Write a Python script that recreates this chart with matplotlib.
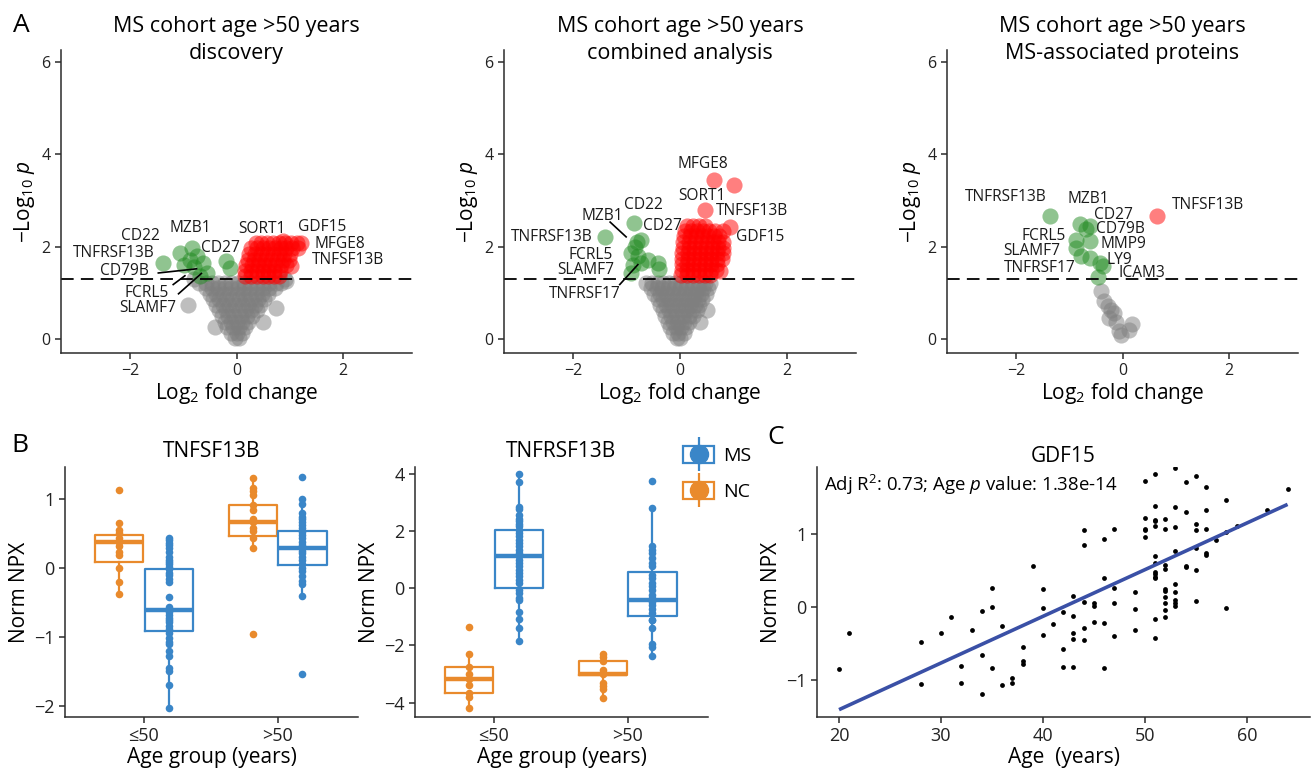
import matplotlib
matplotlib.use("Agg")
import matplotlib.pyplot as plt
import numpy as np
from matplotlib.lines import Line2D
from matplotlib.patches import Patch

plt.rcParams['font.family'] = ['Open Sans', 'DejaVu Sans']
plt.rcParams['mathtext.fontset'] = 'custom'
plt.rcParams['mathtext.rm'] = 'Open Sans'
plt.rcParams['mathtext.it'] = 'Open Sans:italic'
plt.rcParams['mathtext.bf'] = 'Open Sans:bold'

GRAY = '#7f7f7f'
GREEN = '#228b22'
RED = '#ff0000'
MS_BLUE = '#3a86c8'
NC_ORANGE = '#e98a2c'
AXCOL = '#2b2b2b'

# ---------------- panel A: volcano plots (log2FC, -log10 p) ----------------
a1_gray = [(-0.02, 0.03), (0.04, 0.03),
           (-0.1, 0.14), (0.0, 0.14), (0.1, 0.14),
           (-0.17, 0.26), (-0.06, 0.26), (0.05, 0.26), (0.16, 0.26),
           (-0.22, 0.38), (-0.11, 0.38), (0.0, 0.38), (0.11, 0.38), (0.22, 0.38),
           (-0.28, 0.5), (-0.16, 0.5), (-0.04, 0.5), (0.08, 0.5), (0.2, 0.5), (0.3, 0.5),
           (-0.32, 0.62), (-0.2, 0.62), (-0.08, 0.62), (0.04, 0.62), (0.16, 0.62), (0.28, 0.62),
           (0.38, 0.62),
           (-0.38, 0.74), (-0.26, 0.74), (-0.14, 0.74), (-0.02, 0.74), (0.1, 0.74), (0.22, 0.74),
           (0.34, 0.74), (0.45, 0.74),
           (-0.44, 0.86), (-0.32, 0.86), (-0.2, 0.86), (-0.08, 0.86), (0.04, 0.86), (0.16, 0.86),
           (0.28, 0.86), (0.4, 0.86), (0.52, 0.86),
           (-0.5, 0.98), (-0.38, 0.98), (-0.26, 0.98), (-0.14, 0.98), (0.0, 0.98), (0.12, 0.98),
           (0.24, 0.98), (0.36, 0.98), (0.48, 0.98), (0.6, 0.98),
           (-0.58, 1.1), (-0.46, 1.1), (-0.34, 1.1), (-0.22, 1.1), (-0.1, 1.1), (0.02, 1.1),
           (0.14, 1.1), (0.26, 1.1), (0.38, 1.1), (0.5, 1.1), (0.62, 1.1), (0.72, 1.1),
           (-0.7, 1.22), (-0.58, 1.22), (-0.46, 1.22), (-0.34, 1.22), (-0.22, 1.22), (-0.1, 1.22),
           (0.02, 1.22), (0.14, 1.22), (0.26, 1.22), (0.38, 1.22), (0.5, 1.22), (0.62, 1.22),
           (0.74, 1.22), (0.84, 1.22), (-0.8, 1.3), (0.92, 1.3),
           (-0.91, 0.74), (0.75, 0.67), (-0.41, 0.27), (0.5, 0.38), (0.94, 1.25)]
a1_green = [(-1.375, 1.65), (-1.06, 1.86), (-0.84, 1.97), (-0.87, 1.72), (-0.98, 1.6),
            (-0.75, 1.8), (-0.63, 1.65), (-0.56, 1.43), (-0.69, 1.36), (-0.8, 1.55),
            (-0.19, 1.68), (-0.13, 1.54)]
a1_red = [(0.16, 1.36), (0.27, 1.36), (0.38, 1.36), (0.49, 1.36), (0.6, 1.36), (0.71, 1.36), (0.8, 1.36),
          (0.16, 1.48), (0.27, 1.48), (0.38, 1.48), (0.49, 1.48), (0.6, 1.48), (0.71, 1.48), (0.82, 1.48),
          (0.18, 1.6), (0.29, 1.6), (0.4, 1.6), (0.51, 1.6), (0.62, 1.6), (0.73, 1.6), (0.84, 1.6),
          (0.94, 1.6),
          (0.21, 1.72), (0.32, 1.72), (0.43, 1.72), (0.54, 1.72), (0.65, 1.72), (0.76, 1.72),
          (0.87, 1.72), (0.98, 1.72),
          (0.24, 1.84), (0.35, 1.84), (0.46, 1.84), (0.57, 1.84), (0.68, 1.84), (0.79, 1.84),
          (0.9, 1.84), (1.01, 1.84),
          (0.28, 1.96), (0.39, 1.96), (0.5, 1.96), (0.61, 1.96), (0.72, 1.96), (0.83, 1.96),
          (0.94, 1.96), (1.05, 1.96), (1.16, 1.96),
          (0.36, 2.07), (0.47, 2.07), (0.58, 2.07), (0.69, 2.07), (0.8, 2.07), (0.91, 2.07),
          (1.02, 2.07), (1.13, 2.07), (1.22, 2.07), (0.88, 2.13), (1.02, 1.58)]
a1_labels = [('CD22', -1.81, 2.22), ('MZB1', -0.875, 2.40), ('TNFRSF13B', -2.31, 1.86),
             ('CD27', -0.3, 1.97), ('CD79B', -2.11, 1.48), ('FCRL5', -1.69, 1.0),
             ('SLAMF7', -1.675, 0.67), ('SORT1', 0.47, 2.38), ('GDF15', 1.61, 2.43),
             ('MFGE8', 1.94, 2.06), ('TNFSF13B', 2.09, 1.72)]
a1_segments = [(-1.47, 1.43, -0.75, 1.52), (-1.19, 1.18, -0.97, 1.37), (-1.09, 0.98, -0.66, 1.42)]

a2_gray = [(-0.06, 0.03), (0.0, 0.03),
           (-0.13, 0.14), (-0.03, 0.14), (0.07, 0.14),
           (-0.18, 0.26), (-0.08, 0.26), (0.02, 0.26), (0.12, 0.26),
           (-0.23, 0.38), (-0.13, 0.38), (-0.03, 0.38), (0.07, 0.38), (0.17, 0.38),
           (-0.28, 0.5), (-0.17, 0.5), (-0.06, 0.5), (0.05, 0.5), (0.16, 0.5), (0.25, 0.5),
           (-0.32, 0.62), (-0.21, 0.62), (-0.1, 0.62), (0.01, 0.62), (0.12, 0.62), (0.23, 0.62),
           (0.31, 0.62),
           (-0.37, 0.74), (-0.26, 0.74), (-0.15, 0.74), (-0.04, 0.74), (0.07, 0.74), (0.18, 0.74),
           (0.29, 0.74), (0.36, 0.74),
           (-0.42, 0.86), (-0.31, 0.86), (-0.2, 0.86), (-0.09, 0.86), (0.02, 0.86), (0.13, 0.86),
           (0.24, 0.86), (0.34, 0.86), (0.42, 0.86),
           (-0.48, 0.98), (-0.37, 0.98), (-0.26, 0.98), (-0.15, 0.98), (-0.04, 0.98), (0.07, 0.98),
           (0.18, 0.98), (0.29, 0.98), (0.4, 0.98), (0.48, 0.98),
           (-0.55, 1.1), (-0.44, 1.1), (-0.33, 1.1), (-0.22, 1.1), (-0.11, 1.1), (0.0, 1.1),
           (0.11, 1.1), (0.22, 1.1), (0.33, 1.1), (0.44, 1.1), (0.52, 1.1),
           (-0.64, 1.22), (-0.53, 1.22), (-0.42, 1.22), (-0.31, 1.22), (-0.2, 1.22), (-0.09, 1.22),
           (0.02, 1.22), (0.13, 1.22), (0.24, 1.22), (0.35, 1.22), (0.46, 1.22), (0.56, 1.22),
           (0.38, 0.38), (0.5, 0.62)]
a2_green = [(-1.41, 2.21), (-0.86, 2.51), (-0.73, 2.15), (-0.85, 2.0), (-0.91, 1.86),
            (-0.79, 1.79), (-0.6, 1.72), (-0.42, 1.65), (-0.39, 1.52), (-0.91, 1.42),
            (-0.73, 1.65), (-0.88, 1.6), (-0.8, 2.1)]
a2_red = [(0.02, 1.38), (0.13, 1.38), (0.24, 1.38), (0.35, 1.38), (0.46, 1.38), (0.57, 1.38),
          (0.03, 1.5), (0.14, 1.5), (0.25, 1.5), (0.36, 1.5), (0.47, 1.5), (0.58, 1.5), (0.68, 1.5),
          (0.03, 1.62), (0.14, 1.62), (0.25, 1.62), (0.36, 1.62), (0.47, 1.62), (0.58, 1.62),
          (0.69, 1.62),
          (0.04, 1.74), (0.15, 1.74), (0.26, 1.74), (0.37, 1.74), (0.48, 1.74), (0.59, 1.74),
          (0.7, 1.74), (0.78, 1.74),
          (0.04, 1.86), (0.15, 1.86), (0.26, 1.86), (0.37, 1.86), (0.48, 1.86), (0.59, 1.86),
          (0.7, 1.86), (0.8, 1.86),
          (0.05, 1.98), (0.16, 1.98), (0.27, 1.98), (0.38, 1.98), (0.49, 1.98), (0.6, 1.98),
          (0.71, 1.98), (0.8, 1.98),
          (0.06, 2.1), (0.17, 2.1), (0.28, 2.1), (0.39, 2.1), (0.5, 2.1), (0.61, 2.1), (0.72, 2.1),
          (0.8, 2.1),
          (0.08, 2.22), (0.19, 2.22), (0.3, 2.22), (0.41, 2.22), (0.52, 2.22), (0.63, 2.22),
          (0.74, 2.22),
          (0.1, 2.34), (0.21, 2.34), (0.32, 2.34), (0.43, 2.34), (0.54, 2.34), (0.65, 2.34),
          (0.8, 2.34), (0.14, 2.44), (0.25, 2.44), (0.36, 2.44), (0.47, 2.44),
          (0.63, 3.45), (1.01, 3.34), (0.46, 2.79), (0.93, 2.42), (0.75, 1.47)]
a2_labels = [('MFGE8', 0.43, 3.79), ('SORT1', 0.41, 3.10), ('TNFSF13B', 1.35, 2.77),
             ('GDF15', 1.51, 2.21), ('CD22', -0.685, 2.89), ('MZB1', -1.45, 2.67),
             ('CD27', -0.33, 2.44), ('TNFRSF13B', -2.41, 2.21), ('FCRL5', -1.67, 1.81),
             ('SLAMF7', -1.77, 1.49), ('TNFRSF17', -1.78, 0.98)]
a2_segments = [(-1.31, 2.53, -1.01, 2.21), (-1.13, 1.18, -0.79, 1.61)]

a3_gray = [(-0.40, 1.05), (-0.35, 0.82), (-0.28, 0.71), (-0.22, 0.64), (-0.16, 0.56),
           (-0.26, 0.45), (-0.12, 0.38), (0.17, 0.33), (0.12, 0.20), (-0.06, 0.17), (-0.02, 0.09)]
a3_green = [(-1.37, 2.67), (-0.79, 2.48), (-0.62, 2.44), (-0.68, 2.37), (-0.88, 2.15),
            (-0.62, 2.12), (-0.87, 1.97), (-0.78, 1.79), (-0.62, 1.75), (-0.43, 1.65),
            (-0.37, 1.57), (-0.47, 1.34)]
a3_red = [(0.64, 2.67)]
a3_labels = [('TNFRSF13B', -2.19, 3.08), ('MZB1', -0.65, 3.02), ('TNFSF13B', 1.61, 2.90),
             ('CD27', -0.17, 2.68), ('CD79B', -0.04, 2.38), ('FCRL5', -1.48, 2.24),
             ('MMP9', 0.01, 2.05), ('SLAMF7', -1.71, 1.90), ('LY9', -0.06, 1.71),
             ('TNFRSF17', -1.55, 1.54), ('ICAM3', 0.37, 1.42)]

# ---------------- panel B: box plots (Norm NPX) ----------------
age_groups = ['≤50', '>50']
tnfsf_nc = [[1.13, 0.65, 0.55, 0.50, 0.43, 0.38, 0.32, 0.23, 0.18, 0.0, -0.20, -0.38],
            [1.30, 1.16, 1.11, 1.06, 0.91, 0.84, 0.70, 0.66, 0.57, 0.53, 0.43, 0.28, -0.96]]
tnfsf_ms = [[0.43, 0.40, 0.36, 0.33, 0.28, 0.23, 0.16, 0.12, 0.09, 0.05, 0.01, -0.02, -0.07,
             -0.10, -0.16, -0.20, -0.42, -0.57, -0.61, -0.64, -0.68, -0.72, -0.75, -0.79,
             -0.84, -0.88, -0.95, -1.01, -1.07, -1.11, -1.20, -1.27, -1.45, -1.50, -1.69, -2.03],
            [1.32, 1.0, 0.92, 0.80, 0.74, 0.70, 0.66, 0.62, 0.57, 0.52, 0.47, 0.43, 0.38, 0.33,
             0.29, 0.25, 0.21, 0.16, 0.12, 0.06, 0.0, -0.05, -0.12, -0.19, -0.24, -0.41, -1.54]]
# box stats: (q1, median, q3, whisker low, whisker high)
tnfsf_nc_box = [(0.08, 0.37, 0.47, -0.38, 0.65), (0.46, 0.66, 0.91, 0.28, 1.30)]
tnfsf_ms_box = [(-0.92, -0.61, -0.02, -2.03, 0.43), (0.04, 0.29, 0.53, -0.41, 1.0)]

tnfrsf_nc = [[-1.35, -2.31, -2.74, -3.0, -3.17, -3.38, -3.67, -3.79, -4.2],
             [-2.29, -2.39, -2.56, -2.86, -2.95, -3.0, -3.32, -3.42, -3.53, -3.85]]
tnfrsf_ms = [[4.0, 3.72, 2.84, 2.75, 2.57, 2.42, 2.34, 2.25, 2.16, 2.04, 1.93, 1.81, 1.69,
              1.58, 1.46, 1.34, 1.23, 1.11, 0.99, 0.88, 0.76, 0.64, 0.53, 0.41, 0.29, 0.18,
              -0.06, -0.18, -0.35, -0.41, -0.85, -1.08, -1.39, -1.86],
             [3.74, 2.80, 1.46, 1.34, 1.23, 1.05, 0.88, 0.76, 0.47, 0.35, 0.18, 0.06, -0.08,
              -0.23, -0.35, -0.47, -0.58, -0.74, -0.88, -1.11, -1.13, -1.40, -1.94, -2.05, -2.37]]
tnfrsf_nc_box = [(-3.67, -3.17, -2.74, -4.2, -2.31), (-3.03, -2.99, -2.56, -3.85, -2.29)]
tnfrsf_ms_box = [(0.0, 1.13, 2.04, -1.86, 4.0), (-0.99, -0.41, 0.58, -2.37, 2.80)]

# ---------------- panel C: GDF15 vs age ----------------
age = [20, 21, 28, 28, 30, 31, 32, 32, 33, 34, 34, 34, 35, 35, 35, 36, 36, 37, 37, 38, 38, 38,
       39, 40, 40, 40, 41, 42, 42, 42, 43, 43, 43, 43, 43, 44, 44, 44, 44, 44, 45, 45, 45,
       46, 46, 46, 46, 47, 47, 47, 47, 49, 49, 49, 50, 50, 50, 50, 50,
       51, 51, 51, 51, 51, 51, 51, 51, 51, 51, 51, 51, 51,
       52, 52, 52, 52, 52, 52, 52, 52, 52, 52,
       53, 53, 53, 53, 53, 53, 53, 53, 53, 54, 54, 54, 54,
       55, 55, 55, 55, 55, 55, 56, 56, 56, 56, 56, 57, 58, 58, 58, 59, 62, 64]
gdf15 = [-0.85, -0.35, -0.48, -1.05, -0.36, -0.13, -0.80, -1.04, -0.31, -0.05, -0.66, -1.19,
         0.26, 0.0, -0.83, -0.26, -1.07, -0.97, -1.03, -0.55, -0.74, -0.78,
         0.56, 0.24, -0.01, -0.38, -0.23, -0.07, -0.57, -0.82, 0.15, -0.12, -0.35, -0.44, -0.82,
         1.05, 0.85, 0.07, -0.29, -0.45, 0.05, 0.01, -0.21,
         0.93, 0.39, -0.22, -0.83, 1.06, 0.26, 0.06, -0.40, 0.21, -0.03, -0.31,
         1.72, 1.21, 1.07, 1.05, 0.95,
         1.82, 1.38, 1.19, 1.17, 1.11, 0.69, 0.60, 0.48, 0.45, 0.41, 0.39, -0.17, -0.42,
         1.20, 1.06, 0.58, 0.52, 0.24, 0.22, 0.14, 0.05, -0.04, -0.14,
         1.89, 1.37, 1.09, 0.77, 0.32, 0.21, 0.10, 0.06, 0.01, 1.71, 1.30, 0.56, 0.55,
         1.79, 1.13, 1.05, 0.80, 0.51, 0.08, 1.64, 1.33, 1.07, 0.74, 0.71, 0.92, 1.46, 1.03,
         -0.02, 1.10, 1.33, 1.61]
fit_age = [20, 64]
fit_npx = [-1.40, 1.40]


def style(ax, tick_size):
    for s in ('top', 'right'):
        ax.spines[s].set_visible(False)
    for s in ('left', 'bottom'):
        ax.spines[s].set_color(AXCOL)
        ax.spines[s].set_linewidth(1.1)
    ax.tick_params(color=AXCOL, length=4, width=1.1, labelsize=tick_size, labelcolor='#222222')


def volcano(ax, gray, green, red, labels, segments, subtitle):
    for pts, col in ((gray, GRAY), (green, GREEN), (red, RED)):
        p = np.array(pts)
        ax.scatter(p[:, 0], p[:, 1], s=135, c=col, alpha=0.5, linewidths=0)
    ax.axhline(1.3, color='k', lw=1.3, ls=(0, (7, 4)))
    for x0, y0, x1, y1 in segments:
        ax.plot([x0, x1], [y0, y1], color='k', lw=1.2)
    for name, x, y in labels:
        ax.text(x, y, name, fontsize=11.2, ha='center', va='center', color='#1a1a1a')
    ax.set_xlim(-3.3, 3.3)
    ax.set_ylim(-0.3, 6.25)
    ax.set_xticks([-2, 0, 2])
    ax.set_yticks([0, 2, 4, 6])
    style(ax, 11.5)
    ax.set_xlabel(r'Log$_2$ fold change', fontsize=15, labelpad=1)
    ax.set_ylabel(r'$-$Log$_{10}$ $\mathit{p}$', fontsize=15, labelpad=3)
    ax.text(0.5, 1.076, 'MS cohort age >50 years', transform=ax.transAxes,
            ha='center', va='center', fontsize=15.5)
    ax.text(0.5, 0.99, subtitle, transform=ax.transAxes, ha='center', va='center', fontsize=15.5)


def boxes(ax, nc, ms, nc_box, ms_box, title, yticks, ylim):
    for i in range(2):
        for pts, st, col, off in ((nc[i], nc_box[i], NC_ORANGE, -0.185),
                                  (ms[i], ms_box[i], MS_BLUE, 0.185)):
            q1, med, q3, lo, hi = st
            ax.bxp([dict(q1=q1, med=med, q3=q3, whislo=lo, whishi=hi, fliers=[])],
                   positions=[i + off], widths=0.36, showcaps=False, showfliers=False,
                   manage_ticks=False,
                   boxprops=dict(color=col, lw=1.6), whiskerprops=dict(color=col, lw=1.6),
                   medianprops=dict(color=col, lw=3.2))
            ax.scatter(np.full(len(pts), i + off), pts, s=30, c=col, linewidths=0, zorder=3)
    ax.set_xlim(-0.59, 1.6)
    ax.set_ylim(*ylim)
    ax.set_xticks([0, 1])
    ax.set_xticklabels(age_groups)
    ax.set_yticks(yticks)
    style(ax, 13)
    ax.set_xlabel('Age group (years)', fontsize=15, labelpad=1)
    ax.set_ylabel('Norm NPX', fontsize=15, labelpad=3)
    ax.set_title(title, fontsize=15, pad=7)


fig = plt.figure(figsize=(13.11, 7.72), dpi=100)
W, H = 1311, 772


def rect(l, r, t, b):
    return [l / W, 1 - b / H, (r - l) / W, (b - t) / H]


axA1 = fig.add_axes(rect(61, 412, 50, 353))
axA2 = fig.add_axes(rect(504, 856, 50, 353))
axA3 = fig.add_axes(rect(947, 1298, 50, 353))
axB1 = fig.add_axes(rect(65, 358, 467, 717))
axB2 = fig.add_axes(rect(415, 708, 467, 717))
axC = fig.add_axes(rect(817, 1310, 467, 717))

volcano(axA1, a1_gray, a1_green, a1_red, a1_labels, a1_segments, 'discovery')
volcano(axA2, a2_gray, a2_green, a2_red, a2_labels, a2_segments, 'combined analysis')
volcano(axA3, a3_gray, a3_green, a3_red, a3_labels, [], 'MS-associated proteins')

boxes(axB1, tnfsf_nc, tnfsf_ms, tnfsf_nc_box, tnfsf_ms_box, 'TNFSF13B', [-2, -1, 0, 1], (-2.16, 1.46))
boxes(axB2, tnfrsf_nc, tnfrsf_ms, tnfrsf_nc_box, tnfrsf_ms_box, 'TNFRSF13B', [-4, -2, 0, 2, 4], (-4.5, 4.23))

handles = []
for col in (MS_BLUE, NC_ORANGE):
    handles.append((Patch(facecolor='white', edgecolor=col, lw=1.6),
                    Line2D([], [], color=col, marker='|', markersize=25, mew=1.6, ls='none'),
                    Line2D([], [], color=col, marker='o', markersize=13, ls='none')))
axB2.legend(handles, ['MS', 'NC'], loc='upper left', bbox_to_anchor=(683 / W, 1 - 446 / H),
            bbox_transform=fig.transFigure, frameon=False, fontsize=14, borderpad=0,
            borderaxespad=0, handlelength=1.6, handleheight=1.0, labelspacing=0.85,
            handletextpad=0.45)

axC.scatter(age, gdf15, s=12, c='k', linewidths=0)
axC.plot(fit_age, fit_npx, color='#3a50a6', lw=2.6, solid_capstyle='butt')
axC.set_xlim(17.84, 66.2)
axC.set_ylim(-1.5, 1.91)
axC.set_xticks([20, 30, 40, 50, 60])
axC.set_yticks([-1, 0, 1])
style(axC, 13)
axC.set_xlabel('Age  (years)', fontsize=15, labelpad=1)
axC.set_ylabel('Norm NPX', fontsize=15, labelpad=3)
axC.set_title('GDF15', fontsize=15, pad=3)
axC.text(18.53, 1.67, r'Adj R$^2$: 0.73; Age $\mathit{p}$ value: 1.38e-14', fontsize=13.4,
         ha='left', va='center')

fig.text(21 / W, 1 - 25 / H, 'A', fontsize=19, ha='center', va='center')
fig.text(20 / W, 1 - 445 / H, 'B', fontsize=19, ha='center', va='center')
fig.text(776 / W, 1 - 438 / H, 'C', fontsize=19, ha='center', va='center')

fig.savefig('out.png', dpi=100)
